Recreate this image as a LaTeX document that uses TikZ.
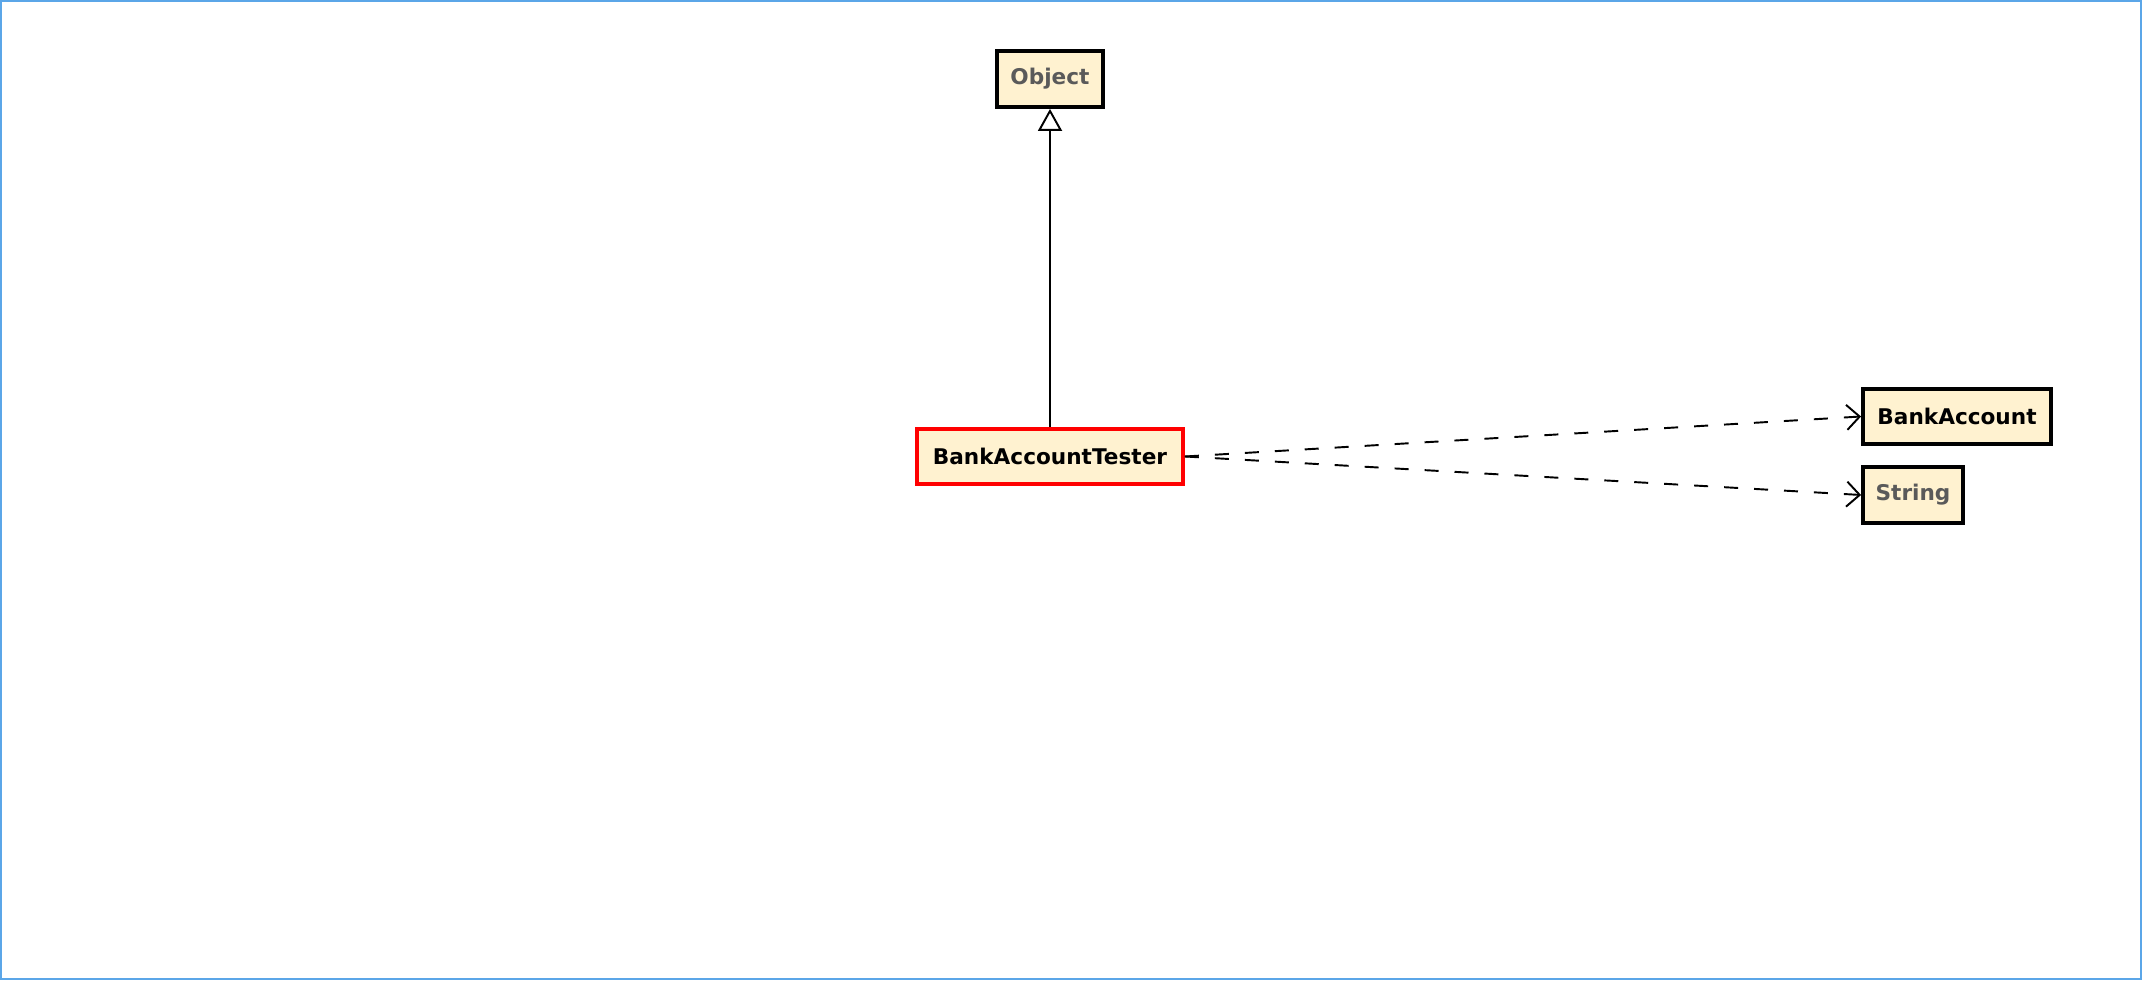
\documentclass[tikz,border=0pt]{standalone}
\usepackage{fontspec}
\setmainfont{DejaVu Sans}
\usepackage{tikz}
\usetikzlibrary{positioning,arrows.meta}
\definecolor{classfill}{HTML}{FFF2D0}
\definecolor{frameblue}{HTML}{5BA6E8}
\definecolor{libtext}{HTML}{5A5A5A}
\tikzstyle{class box}=[
    draw = black,
    line width = 2.2pt,
    fill = classfill,
    rectangle,
    inner sep = 0pt,
    font = \fontsize{12.3}{14}\selectfont\bfseries
]

\begin{document}
\begin{tikzpicture}[node distance={7.55cm}, line width=1.1pt,
    dep/.style = {dash pattern=on 0.28cm off 0.32cm, -{Straight Barb[length=0.26cm,width=0.5cm]}}]
        \useasboundingbox (0,0) rectangle (42.84,19.6);
        \draw[frameblue, line width=0.04cm] (0.02,0.02) rectangle (42.82,19.58);

        \node[class box, draw = red, minimum width = 5.32cm, minimum height = 1.1cm] (1) at (21,10.47) {BankAccountTester};
        \node[class box, text = libtext, minimum width = 2.12cm, minimum height = 1.12cm] (2) [above of = 1] {Object};
        \node[class box, minimum width = 3.76cm, minimum height = 1.1cm] (3) at (39.14,11.27) {BankAccount};
        \node[class box, text = libtext, minimum width = 2.0cm, minimum height = 1.12cm] (4) at (38.26,9.7) {String};

        \draw[-{Triangle[open, fill=white, length=0.44cm, width=0.48cm]}] (1) -- (2);
        \draw[dep] (1.east) -- (3.west);
        \draw[dep] (1.east) -- (4.west);

\end{tikzpicture}
\end{document}
